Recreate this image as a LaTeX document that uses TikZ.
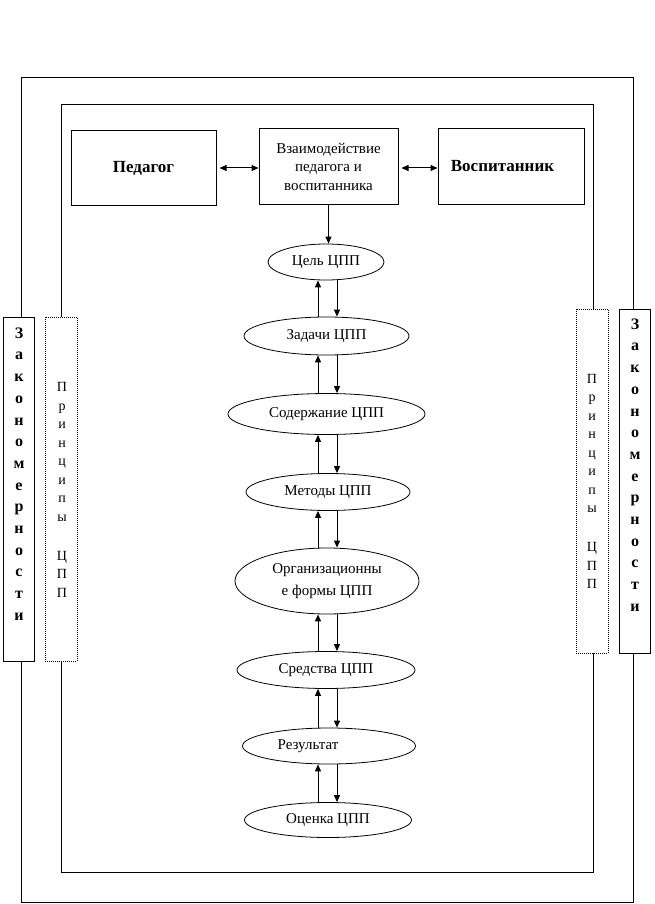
\documentclass[tikz,border=0pt]{standalone}
\usepackage{fontspec}
\setmainfont{Liberation Serif}
\usetikzlibrary{shapes.geometric,arrows.meta}
\begin{document}
\begin{tikzpicture}[x=1pt,y=-1pt,
  frame/.style={draw,line width=1pt},
  topbox/.style={draw,line width=1pt,rectangle,inner sep=0pt,fill=white,
     font=\fontsize{17}{20}\selectfont\bfseries},
  midbox/.style={draw,line width=1pt,rectangle,inner sep=0pt,fill=white,align=center,
     font=\fontsize{15}{18.5}\selectfont},
  oval/.style={draw,line width=0.8pt,ellipse,inner sep=0pt,fill=white,align=center,
     font=\fontsize{15}{22}\selectfont},
  zakbox/.style={draw,line width=1pt,rectangle,fill=white,inner sep=0pt,
     minimum width=31pt,minimum height=344pt},
  prbox/.style={draw,line width=0.8pt,dash pattern=on 1pt off 1pt,rectangle,fill=white,inner sep=0pt,
     minimum width=32pt,minimum height=344pt},
  zaktext/.style={align=center,inner sep=0pt,font=\fontsize{16}{21.7}\selectfont\bfseries},
  prtext/.style={align=center,inner sep=0pt,font=\fontsize{14}{18.5}\selectfont},
  arr/.style={-{Triangle[length=7pt,width=6pt]},line width=1pt},
  dbl/.style={{Triangle[length=7pt,width=6pt]}-{Triangle[length=7pt,width=6pt]},line width=1pt}
]
\useasboundingbox (0,0) rectangle (654,904);
\fill[white] (0,0) rectangle (654,904);

% frames
\draw[frame] (21,78) rectangle (633,902);
\draw[frame] (61,105) rectangle (593,872);

% top boxes
\node[topbox,minimum width=145pt,minimum height=74pt] (ped) at (143.5,168) {Педагог};
\node[midbox,minimum width=139pt,minimum height=75pt] (vz) at (328.5,166.5)
  {Взаимодействие\\педагога и\\воспитанника};
\node[topbox,minimum width=146pt,minimum height=75pt] (vos) at (511,166.5) {Воспитанник\hspace*{17pt}};

% ellipses
\node[oval,minimum width=116pt,minimum height=36pt] (cel) at (326,262) {Цель ЦПП};
\node[oval,minimum width=165pt,minimum height=38pt] (zad) at (326.5,336) {Задачи ЦПП};
\node[oval,minimum width=197pt,minimum height=41pt] (sod) at (326.5,414) {Содержание ЦПП};
\node[oval,minimum width=164pt,minimum height=37pt] (met) at (328,492) {Методы ЦПП};
\node[oval,minimum width=184pt,minimum height=66pt] (org) at (327,581) {Организационны\\е формы ЦПП};
\node[oval,minimum width=178pt,minimum height=37pt] (sred) at (326,670) {Средства ЦПП};
\node[oval,minimum width=173pt,minimum height=36pt] (rez) at (329,746) {Результат\hspace*{42pt}};
\node[oval,minimum width=167pt,minimum height=35pt] (oc) at (328,820) {Оценка ЦПП};

% connectors top
\draw[dbl,shorten <=3pt] (ped.east) -- (ped.east -| vz.west);
\draw[dbl,shorten <=3pt] (vz.east |- ped.east) -- (vos.west |- ped.east);
\draw[arr] (vz.south) -- (vz.south |- cel.north);

% vertical pairs
\foreach \a/\b in {cel/zad,zad/sod,sod/met,met/org,org/sred,sred/rez,rez/oc}{
  \draw[arr] (\b.north -| 318,0) -- (\a.south -| 318,0);
  \draw[arr] (\a.south -| 337,0) -- (\b.north -| 337,0);
}

% side boxes
\node[zakbox] (zakL) at (18.5,489) {};
\node[zaktext] (zakLt) at (19,474) {З\\а\\к\\о\\н\\о\\м\\е\\р\\н\\о\\с\\т\\и};
\node[prbox] (prL) at (61,489) {};
\node[prtext] (prLt) at (62,490) {П\\р\\и\\н\\ц\\и\\п\\ы\\[20.5pt]Ц\\П\\П};

\node[prbox] (prR) at (592,481) {};
\node[prtext] (prRt) at (592,481.5) {П\\р\\и\\н\\ц\\и\\п\\ы\\[20.5pt]Ц\\П\\П};
\node[zakbox] (zakR) at (634.5,481) {};
\node[zaktext] (zakRt) at (635,465) {З\\а\\к\\о\\н\\о\\м\\е\\р\\н\\о\\с\\т\\и};
\end{tikzpicture}
\end{document}
